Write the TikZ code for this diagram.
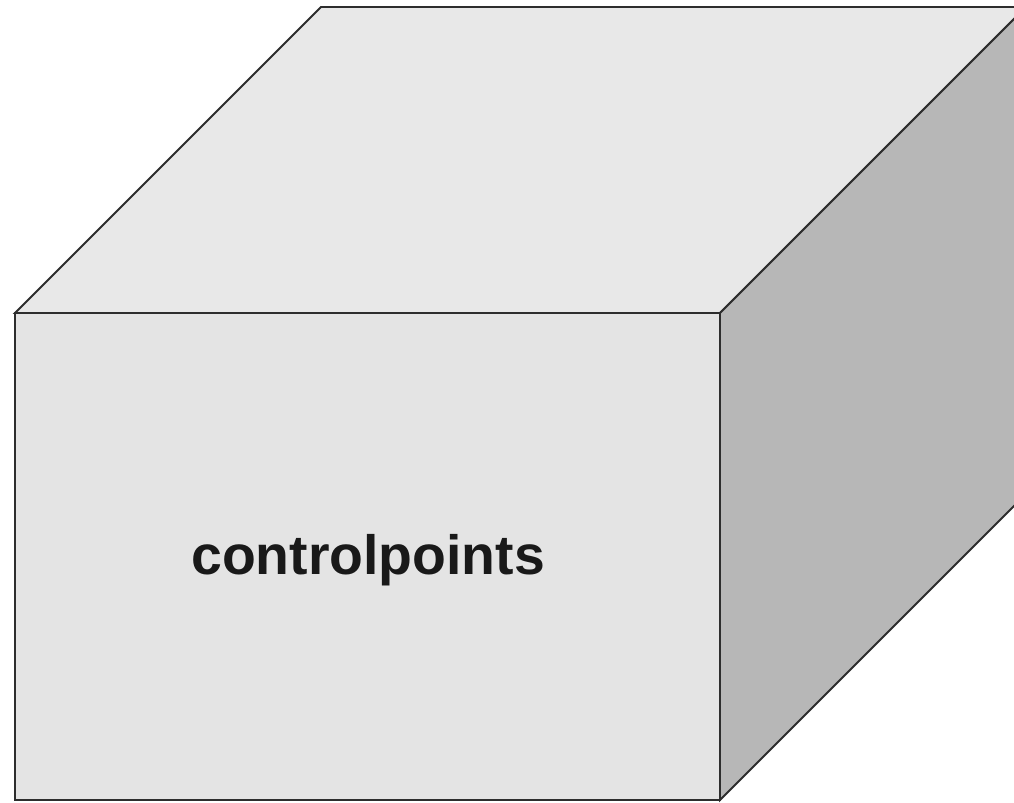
\documentclass[tikz,border=0pt]{standalone}
\usepackage{fontspec}
\setmainfont{Liberation Sans}
\usepackage{xcolor}
\usepackage{tikz}

\definecolor{frontgray}{RGB}{228,228,228}
\definecolor{topgray}{RGB}{232,232,232}
\definecolor{sidegray}{RGB}{183,183,183}
\definecolor{edgegray}{RGB}{45,45,45}

\begin{document}
\begin{tikzpicture}[x=0.02cm,y=-0.02cm,every node/.style={inner sep=1.5pt},
    face/.style={draw=edgegray,line width=1.1pt,line join=miter}]
      \useasboundingbox (0,0) rectangle (1014,802);
      \clip (0,0) rectangle (1014,802);
      \coordinate (FBL) at (15,800);
      \coordinate (FBR) at (720,800);
      \coordinate (FTL) at (15,313);
      \coordinate (FTR) at (720,313);
      \coordinate (BTL) at (321,7);
      \coordinate (BTR) at (1026,7);
      \coordinate (BBR) at (1026,494);
      \filldraw[face,fill=topgray] (FTL) -- (BTL) -- (BTR) -- (FTR) -- cycle;
      \filldraw[face,fill=sidegray] (FTR) -- (BTR) -- (BBR) -- (FBR) -- cycle;
      \filldraw[face,fill=frontgray] (FBL) -- (FTL) -- (FTR) -- (FBR) -- cycle;
      \node[font=\fontsize{31.5}{36}\selectfont\bfseries,text=black!90] (lbl) at (368,560) {controlpoints};
    \end{tikzpicture}
\end{document}
